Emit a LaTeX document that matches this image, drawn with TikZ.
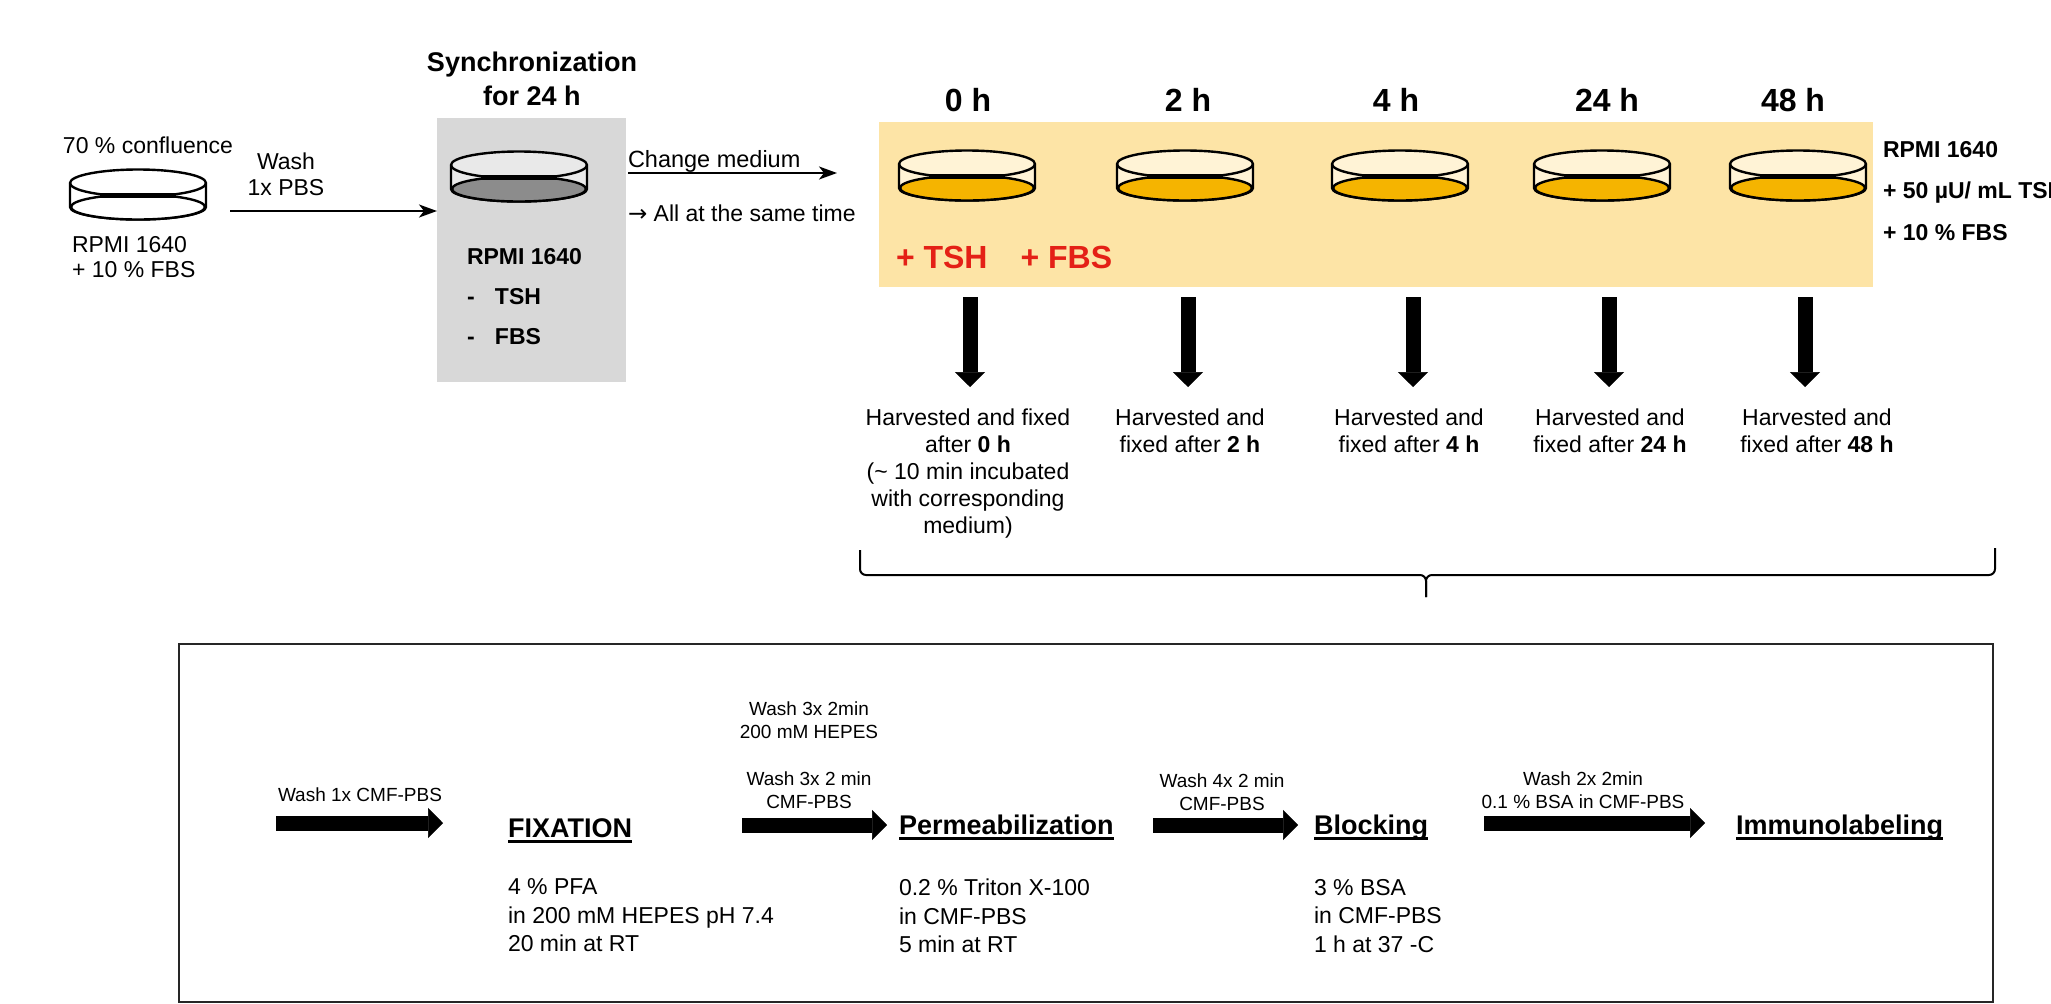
\documentclass[tikz,border=0pt]{standalone}
\usepackage{fontspec}
\setmainfont{Liberation Sans}
\newfontfamily\arrowfont{DejaVu Sans}
\usetikzlibrary{arrows.meta}
\newcommand\setfs[2]{\fontsize{#1}{#2}\selectfont}
% bold step heading with a heavy underline
\newcommand\headrule[1]{\leavevmode\setbox0=\hbox{#1}\rlap{\rule[-5.5pt]{\wd0}{2.5pt}}\box0}
\definecolor{mediumgold}{RGB}{245,180,0}
\definecolor{lidcream}{RGB}{255,243,214}
\definecolor{bandyellow}{RGB}{253,228,166}
\definecolor{syncgray}{RGB}{216,216,216}
\definecolor{lidgray}{RGB}{233,233,233}
\definecolor{mediumgray}{RGB}{140,140,140}
\definecolor{addred}{RGB}{228,32,22}

\tikzset{
  % culture dish: lid colour, medium colour
  pics/dish/.style n args={2}{code={
    \filldraw[fill=#1,line width=2.4pt,line join=round]
      (-68,-12) -- (-68,12)
      arc[start angle=180,end angle=360,x radius=68pt,y radius=12.5pt]
      -- (68,-12)
      arc[start angle=0,end angle=180,x radius=68pt,y radius=13.5pt] -- cycle;
    \filldraw[fill=#2,line width=2.4pt] (0,12) ellipse [x radius=67pt,y radius=12.5pt];
    \draw[line width=2.4pt] (-68,-12) arc[start angle=180,end angle=360,x radius=68pt,y radius=13.5pt];
    \draw[line width=5pt] (-38,0.5) -- (38,0.5);
  }}
}

\begin{document}
\begin{tikzpicture}[x=1pt,y=-1pt,
  every node/.style={inner sep=0pt,outer sep=0pt},
  reg/.style={font=\setfs{23}{26}},
  small/.style={font=\setfs{19}{23}},
  body/.style={font=\setfs{23}{28.5},align=left,anchor=north west},
  head/.style={font=\bfseries\setfs{27}{30},anchor=base west},
  timelab/.style={font=\bfseries\setfs{32}{34},anchor=base},
  harvest/.style={font=\setfs{23}{27},align=center,anchor=north},
  thinarrow/.style={line width=2pt,-{Stealth[length=18pt,width=13pt,inset=5pt]}},
  fatarrow/.style={line width=15pt,-{Triangle[length=15pt,width=30pt,line width=0.5pt]}},
  downarrow/.style={fatarrow,shorten >=22pt},
  brace/.style={line width=2pt,rounded corners=6pt}
]
\fill[white] (0,0) rectangle (2051,1004);
\useasboundingbox (0,0) rectangle (2051,1004);

% ---------- backgrounds ----------
\node[fill=syncgray,minimum width=189pt,minimum height=264pt,anchor=north west] (syncbox) at (437,118) {};
\node[fill=bandyellow,minimum width=994pt,minimum height=165pt,anchor=north west] (band) at (879,122) {};

% ---------- dishes ----------
\pic at (138,195) {dish={white}{white}};
\pic at (519,177) {dish={lidgray}{mediumgray}};
\foreach \x in {967,1185,1400,1602,1798}
  \pic at (\x,176) {dish={lidcream}{mediumgold}};

% ---------- starting culture ----------
\node[reg,anchor=base] (conf) at (148,153) {70 \% confluence};
\node[reg,align=center,anchor=north] (wash1) at (286,153) {Wash\\1x PBS};
\node[font=\setfs{23}{25},align=left,anchor=north west] (rpmiA) at (72,236) {RPMI 1640\\+ 10 \% FBS};
\coordinate (w1s) at (230,211);
\draw[thinarrow] (w1s) -- (w1s -| syncbox.west);

% ---------- synchronization ----------
\node[font=\bfseries\setfs{27}{34},align=center,anchor=north] (sync) at (532,52) {Synchronization\\for 24 h};
\node[font=\bfseries\setfs{23}{40},align=left,anchor=north west] (rpmiB) at (467,248)
  {RPMI 1640\\\makebox[28pt][l]{-}TSH\\\makebox[28pt][l]{-}FBS};

\node[font=\setfs{23.5}{26},anchor=base west] (change) at (628,167) {Change medium};
\coordinate (c1s) at (628,173);
\coordinate (c1e) at (837,173);
\draw[thinarrow] (c1s) -- (c1e);
\node[font=\setfs{23}{26},anchor=base west] (same) at (628,221) {{\arrowfont →} All at the same time};

% ---------- time course ----------
\node[timelab] (l0) at (968,111) {0 h};
\node[timelab] (l1) at (1188,111) {2 h};
\node[timelab] (l2) at (1396,111) {4 h};
\node[timelab] (l3) at (1607,111) {24 h};
\node[timelab] (l4) at (1793,111) {48 h};

\node[font=\bfseries\setfs{32}{34},text=addred,anchor=base west] (adds) at (896,268) {+ TSH\hspace{33pt}+ FBS};
\node[font=\bfseries\setfs{23}{41.5},align=left,anchor=north west] (rpmiC) at (1883,141)
  {RPMI 1640\\+ 50 µU/ mL TSH\\+ 10 \% FBS};

\node[harvest] (h0) at (968,409) {Harvested and fixed\\after \textbf{0 h}\\(\textasciitilde{} 10 min incubated\\with corresponding\\medium)};
\node[harvest] (h1) at (1190,409) {Harvested and\\fixed after \textbf{2 h}};
\node[harvest] (h2) at (1409,409) {Harvested and\\fixed after \textbf{4 h}};
\node[harvest] (h3) at (1610,409) {Harvested and\\fixed after \textbf{24 h}};
\node[harvest] (h4) at (1817,409) {Harvested and\\fixed after \textbf{48 h}};

\foreach \x/\n in {970/h0,1188/h1,1413/h2,1609/h3,1805/h4}{
  \coordinate (top-\n) at (\x,297);
  \draw[downarrow] (top-\n) -- (top-\n |- \n.north);
}

% ---------- brace ----------
\coordinate (brL) at (860,550);
\coordinate (brM) at (1426,597);
\coordinate (brR) at (1995,548);
\draw[brace] (brL) -- (860,575) -- (1426,575) -- (brM);
\draw[brace] (brM) -- (1426,575) -- (1995,575) -- (brR);

% ---------- staining protocol ----------
\node[draw=black!85,line width=2pt,minimum width=1814pt,minimum height=358pt,anchor=north west] (proto) at (179,644) {};

\node[small,anchor=base] (wb1) at (360,801) {Wash 1x CMF-PBS};
\coordinate (b1s) at (276,823);
\coordinate (b1e) at (443,823);
\draw[fatarrow] (b1s) -- (b1e);

\node[head] (fix) at (508,837) {\headrule{FIXATION}};
\node[body] (fixb) at (508,879) {4 \% PFA\\in 200 mM HEPES pH 7.4\\20 min at RT};

\node[small,align=center,anchor=north] (wb2a) at (809,702) {Wash 3x 2min\\200 mM HEPES};
\node[small,align=center,anchor=north] (wb2b) at (809,772) {Wash 3x 2 min\\CMF-PBS};
\coordinate (b2s) at (742,825);
\coordinate (b2e) at (887,825);
\draw[fatarrow] (b2s) -- (b2e);

\node[head] (perm) at (899,834) {\headrule{Permeabilization}};
\node[body] (permb) at (899,879) {0.2 \% Triton X-100\\in CMF-PBS\\5 min at RT};

\node[small,align=center,anchor=north] (wb3) at (1222,774) {Wash 4x 2 min\\CMF-PBS};
\coordinate (b3s) at (1153,825);
\coordinate (b3e) at (1298,825);
\draw[fatarrow] (b3s) -- (b3e);

\node[head] (block) at (1314,834) {\headrule{Blocking}};
\node[body] (blockb) at (1314,879) {3 \% BSA\\in CMF-PBS\\1 h at 37 -C};

\node[small,align=center,anchor=north] (wb4) at (1583,772) {Wash 2x 2min\\0.1 \% BSA in CMF-PBS};
\coordinate (b4s) at (1484,823);
\coordinate (b4e) at (1705,823);
\draw[fatarrow] (b4s) -- (b4e);

\node[head] (immuno) at (1736,834) {\headrule{Immunolabeling}};
\end{tikzpicture}
\end{document}
